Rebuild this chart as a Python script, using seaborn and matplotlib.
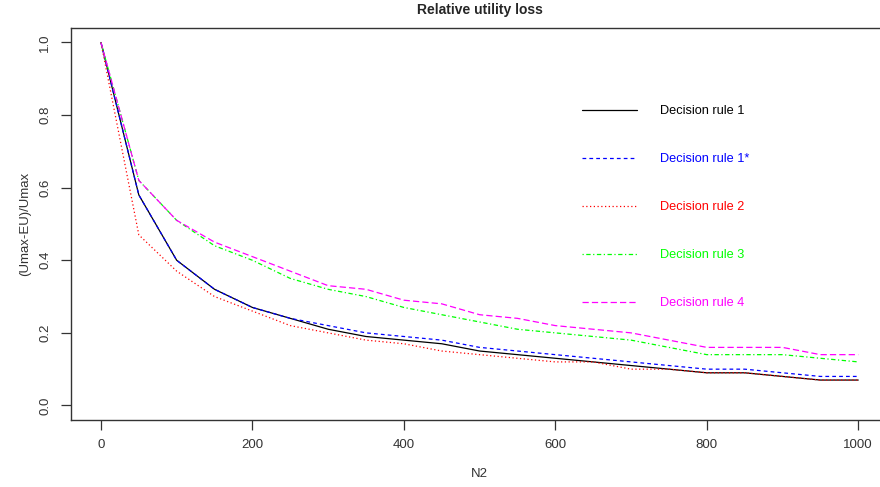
import matplotlib
matplotlib.use("Agg")
import matplotlib.pyplot as plt
import seaborn as sns
import pandas as pd

# data
n2 = list(range(0, 1001, 50))
rule1 = [1.0, 0.58, 0.40, 0.32, 0.27, 0.24, 0.21, 0.19, 0.18, 0.17, 0.15,
         0.14, 0.13, 0.12, 0.11, 0.10, 0.09, 0.09, 0.08, 0.07, 0.07]
rule1_star = [1.0, 0.58, 0.40, 0.32, 0.27, 0.24, 0.22, 0.20, 0.19, 0.18, 0.16,
              0.15, 0.14, 0.13, 0.12, 0.11, 0.10, 0.10, 0.09, 0.08, 0.08]
rule2 = [1.0, 0.47, 0.37, 0.30, 0.26, 0.22, 0.20, 0.18, 0.17, 0.15, 0.14,
         0.13, 0.12, 0.12, 0.10, 0.10, 0.09, 0.09, 0.08, 0.07, 0.07]
rule3 = [1.0, 0.62, 0.51, 0.44, 0.40, 0.35, 0.32, 0.30, 0.27, 0.25, 0.23,
         0.21, 0.20, 0.19, 0.18, 0.16, 0.14, 0.14, 0.14, 0.13, 0.12]
rule4 = [1.0, 0.62, 0.51, 0.45, 0.41, 0.37, 0.33, 0.32, 0.29, 0.28, 0.25,
         0.24, 0.22, 0.21, 0.20, 0.18, 0.16, 0.16, 0.16, 0.14, 0.14]

rule_names = ["Decision rule 1", "Decision rule 1*", "Decision rule 2",
              "Decision rule 3", "Decision rule 4"]
rule_colors = ["black", "#0000FF", "#FF0000", "#00FF00", "#FF00FF"]
rule_dashes = ["", (3.0, 2.5), (1.0, 2.0), (1.0, 2.0, 3.5, 2.0), (5.0, 2.5)]

df = pd.concat(
    [pd.DataFrame({"N2": n2, "loss": vals, "rule": name})
     for name, vals in zip(rule_names, [rule1, rule1_star, rule2, rule3, rule4])],
    ignore_index=True,
)

sns.set_style("ticks")
plt.rcParams["font.family"] = ["Liberation Sans", "DejaVu Sans"]

fig = plt.figure(figsize=(8.8, 4.87), dpi=100)
ax = fig.add_axes([0.0803, 0.1376, 0.9294, 0.805])

sns.lineplot(
    data=df, x="N2", y="loss", hue="rule", style="rule",
    palette=dict(zip(rule_names, rule_colors)),
    dashes=dict(zip(rule_names, rule_dashes)),
    linewidth=0.9, legend=False, ax=ax,
)

ax.set_xlim(-40, 1040)
ax.set_ylim(-0.04, 1.04)
ax.set_xticks([0, 200, 400, 600, 800, 1000])
ax.set_yticks([0.0, 0.2, 0.4, 0.6, 0.8, 1.0])
ax.set_yticklabels(["0.0", "0.2", "0.4", "0.6", "0.8", "1.0"], rotation=90, va="center")

for s in ax.spines.values():
    s.set_visible(True)
    s.set_color("#333333")
    s.set_linewidth(1.0)
ax.tick_params(direction="out", length=7, width=0.9, color="#333333",
               labelsize=9.5, labelcolor="#333333", pad=7)

ax.set_xlabel("N2", fontsize=9.5, color="#333333", labelpad=12)
ax.set_ylabel("(Umax-EU)/Umax", fontsize=9.5, color="#333333", labelpad=6)
ax.set_title("Relative utility loss", fontsize=10, fontweight="bold", pad=10)

handles = ax.get_lines()[:5]
leg = ax.legend(
    handles, rule_names, loc="upper left",
    bbox_to_anchor=(582 / 880, 1 - 105 / 487), bbox_transform=fig.transFigure,
    frameon=False, fontsize=9.2, handlelength=4.3, handletextpad=1.8,
    labelspacing=2.82, borderpad=0, borderaxespad=0, labelcolor="linecolor",
)

fig.savefig("out.png", dpi=100)
